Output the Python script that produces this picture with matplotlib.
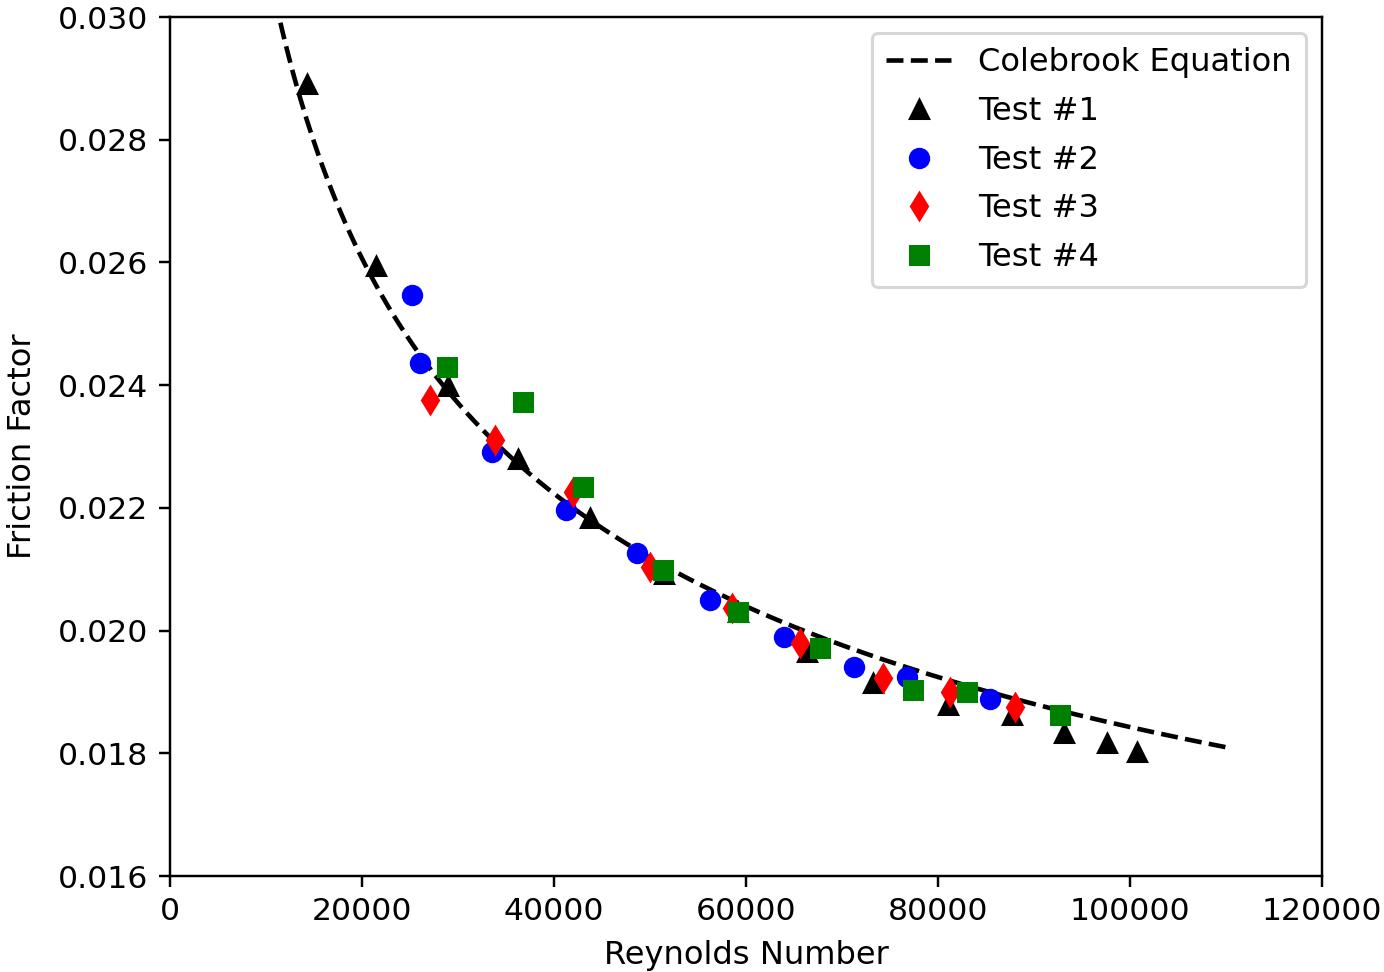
import numpy as np
import matplotlib
matplotlib.use("Agg")
import matplotlib.pyplot as plt

# ---- data ----
re_test1 = [14300, 21500, 29000, 36200, 43800, 51500, 59200, 66400, 73200,
            81000, 87700, 93100, 97600, 100700]
f_test1 = [0.02891, 0.02594, 0.02399, 0.02280, 0.02183, 0.02092, 0.02030,
           0.01965, 0.01915, 0.01879, 0.01862, 0.01833, 0.01817, 0.01802]

re_test2 = [25200, 26000, 33500, 41200, 48600, 56300, 64000, 71200, 76800, 85400]
f_test2 = [0.02547, 0.02436, 0.02291, 0.02197, 0.02126, 0.02050, 0.01990,
           0.01941, 0.01924, 0.01888]

re_test3 = [27100, 33900, 42000, 50000, 58500, 65600, 74300, 81300, 88000]
f_test3 = [0.02376, 0.02311, 0.02226, 0.02104, 0.02037, 0.01980, 0.01923,
           0.01900, 0.01875]

re_test4 = [28900, 36800, 43000, 51400, 59200, 67700, 77400, 83000, 92700]
f_test4 = [0.02430, 0.02373, 0.02234, 0.02099, 0.02030, 0.01972, 0.01903,
           0.01900, 0.01862]

# Colebrook equation curve
re_min, re_max = 10000, 110000
rel_roughness = 8.3e-5

x_ticks = [0, 20000, 40000, 60000, 80000, 100000, 120000]
y_ticks = [0.016, 0.018, 0.020, 0.022, 0.024, 0.026, 0.028, 0.030]


def colebrook(re, rr):
    f = np.full_like(re, 0.02, dtype=float)
    for _ in range(60):
        f = (-2.0 * np.log10(rr / 3.7 + 2.51 / (re * np.sqrt(f)))) ** -2
    return f


re_line = np.linspace(re_min, re_max, 500)
f_line = colebrook(re_line, rel_roughness)

dpi = 220
fig = plt.figure(figsize=(1384 / dpi, 972 / dpi), dpi=dpi)
ax = fig.add_axes([170 / 1384, 1 - 876 / 972, (1322 - 170) / 1384, (876 - 17) / 972])

ax.plot(re_line, f_line, 'k--', label='Colebrook Equation')
ax.plot(re_test1, f_test1, '^', color='black', linestyle='none', label='Test #1')
ax.plot(re_test2, f_test2, 'o', color='blue', linestyle='none', label='Test #2')
ax.plot(re_test3, f_test3, 'd', color='red', linestyle='none', label='Test #3')
ax.plot(re_test4, f_test4, 's', color='green', linestyle='none', label='Test #4')

ax.set_xlim(0, 120000)
ax.set_ylim(0.016, 0.030)
ax.set_xticks(x_ticks)
ax.set_yticks(y_ticks)
ax.tick_params(labelsize=10.3)
ax.set_xlabel('Reynolds Number', fontsize=10.5, labelpad=4.5)
ax.set_ylabel('Friction Factor', fontsize=10.5, labelpad=6.5)
ax.legend(loc='upper right', fontsize=10.5, labelspacing=0.55,
          handletextpad=0.85, borderpad=0.45)

fig.savefig('out.png', dpi=dpi)
